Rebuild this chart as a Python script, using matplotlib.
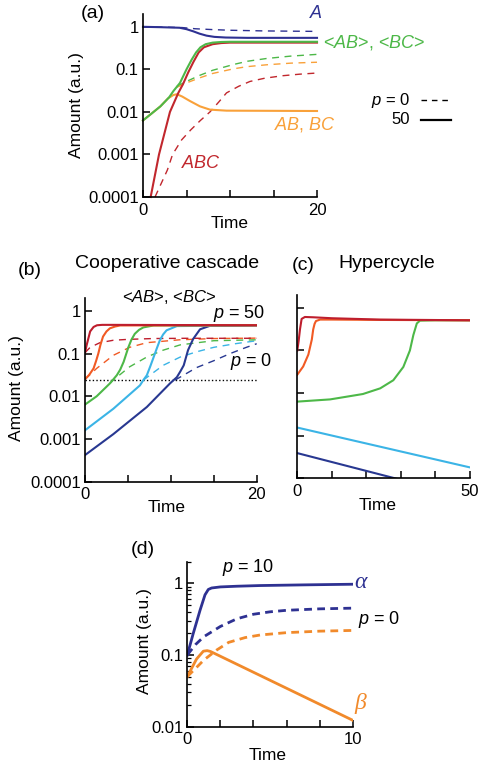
import matplotlib
matplotlib.use("Agg")
import matplotlib.pyplot as plt
from matplotlib.lines import Line2D
from matplotlib.ticker import FixedLocator, NullLocator, LogLocator, NullFormatter

plt.rcParams['font.family'] = ['Liberation Sans', 'DejaVu Sans']
plt.rcParams['mathtext.fontset'] = 'custom'
plt.rcParams['mathtext.rm'] = 'Liberation Sans'
plt.rcParams['mathtext.it'] = 'Liberation Sans:italic'

# ---------------- data: panel (a) ----------------
a_A_t = [0, 2, 4.2, 5, 5.8, 6.5, 7.3, 8.2, 9.5, 12, 20]
a_A_p50 = [1.0, 0.98, 0.95, 0.88, 0.78, 0.69, 0.62, 0.58, 0.56, 0.55, 0.55]
a_Ad_t = [0, 4.5, 6, 8, 10, 14, 20]
a_A_p0 = [1.0, 0.96, 0.9, 0.86, 0.83, 0.8, 0.78]

a_AB2_t = [0, 1, 2, 3, 3.5, 4.25, 5, 5.6, 6.1, 6.6, 7.2, 8, 9, 10, 20]
a_AB2_p50 = [0.0063, 0.0092, 0.0135, 0.022, 0.031, 0.048, 0.1, 0.17, 0.25, 0.33, 0.39, 0.425, 0.44, 0.445, 0.445]
a_ABC_t = [0.88, 1.84, 3.1, 4.06, 4.6, 5.2, 5.8, 6.4, 7, 8, 9, 10, 20]
a_ABC_p50 = [1e-4, 1e-3, 0.01, 0.028, 0.045, 0.085, 0.15, 0.25, 0.33, 0.39, 0.415, 0.425, 0.425]
a_AB_t = [0, 1, 2, 2.9, 3.5, 3.9, 4.5, 5.4, 6.55, 7.7, 9.6, 20]
a_AB_p50 = [0.0063, 0.0092, 0.0135, 0.021, 0.025, 0.026, 0.023, 0.018, 0.0135, 0.0113, 0.0107, 0.0105]

a_ABCd_t = [1.38, 2.8, 3.4, 4.44, 5.5, 6.6, 7.7, 8.7, 9.6, 11, 12.3, 14, 16.1, 18, 20]
a_ABC_p0 = [1e-4, 4.3e-4, 1e-3, 2.2e-3, 3.8e-3, 6.3e-3, 0.01, 0.017, 0.028, 0.04, 0.052, 0.062, 0.071, 0.077, 0.082]
a_d_t = [3.9, 5, 6.5, 8, 10.4, 12, 14.2, 17, 20]
a_AB2_p0 = [0.04, 0.052, 0.072, 0.095, 0.13, 0.155, 0.18, 0.205, 0.225]
a_AB_p0 = [0.038, 0.048, 0.063, 0.08, 0.103, 0.116, 0.128, 0.14, 0.147]

# ---------------- data: panel (b) ----------------
b_red_t = [0, 0.2, 0.6, 1.0, 1.4, 2, 3, 20]
b_red_p50 = [0.105, 0.16, 0.33, 0.42, 0.46, 0.47, 0.47, 0.46]
b_redd_t = [0, 0.6, 1.75, 3.3, 5, 8, 12, 20]
b_red_p0 = [0.105, 0.14, 0.18, 0.205, 0.215, 0.225, 0.228, 0.228]

b_org_t = [0, 0.5, 1.0, 1.3, 1.55, 1.8, 2.1, 2.5, 2.9, 3.5, 4.1, 20]
b_org_p50 = [0.025, 0.032, 0.045, 0.068, 0.1, 0.16, 0.25, 0.33, 0.39, 0.43, 0.455, 0.46]
b_orgd_t = [0, 1.36, 3.3, 5.2, 7.2, 11, 15, 20]
b_org_p0 = [0.025, 0.045, 0.091, 0.14, 0.18, 0.21, 0.225, 0.23]

b_grn_t = [0, 1.36, 2.9, 3.7, 4.1, 4.5, 5.05, 5.4, 5.8, 6.3, 6.8, 8, 20]
b_grn_p50 = [0.0064, 0.01, 0.02, 0.031, 0.042, 0.064, 0.14, 0.21, 0.29, 0.36, 0.41, 0.455, 0.46]
b_grnd_t = [2.9, 3.3, 5.2, 7.2, 9.1, 11.1, 15, 20]
b_grn_p0 = [0.02, 0.024, 0.049, 0.083, 0.12, 0.16, 0.2, 0.21]

b_lbl_t = [0, 3.3, 6.4, 6.8, 7.2, 7.6, 8.0, 8.35, 8.7, 9.1, 9.5, 10.7, 20]
b_lbl_p50 = [0.0016, 0.0051, 0.018, 0.024, 0.031, 0.05, 0.083, 0.13, 0.2, 0.28, 0.35, 0.44, 0.46]
b_lbld_t = [6.8, 9.1, 11.1, 13, 15, 17.5, 20]
b_lbl_p0 = [0.024, 0.053, 0.083, 0.11, 0.14, 0.17, 0.2]

b_nvy_t = [0, 3.3, 7.2, 9.9, 10.7, 11.1, 11.5, 12.0, 12.6, 13.4, 14.6, 20]
b_nvy_p50 = [0.00042, 0.0013, 0.0056, 0.02, 0.028, 0.038, 0.053, 0.12, 0.22, 0.37, 0.45, 0.46]
b_nvyd_t = [10.5, 13, 15, 16.9, 18.8, 20]
b_nvy_p0 = [0.024, 0.047, 0.068, 0.1, 0.14, 0.17]

b_threshold = 0.0237

# ---------------- data: panel (c) ----------------
c_red_t = [0, 0.4, 0.77, 1.25, 2.2, 4.6, 10, 24, 50]
c_red = [0.1, 0.17, 0.31, 0.55, 0.61, 0.6, 0.57, 0.53, 0.51]
c_org_t = [0, 1.7, 3.2, 4.2, 4.6, 5.0, 5.4, 6.6, 10, 24, 50]
c_org = [0.027, 0.042, 0.08, 0.18, 0.31, 0.42, 0.49, 0.53, 0.53, 0.52, 0.51]
c_grn_t = [0, 9.5, 19, 24, 27.8, 30.7, 32.6, 33.6, 34.6, 35.5, 40, 50]
c_grn = [0.0063, 0.0071, 0.0095, 0.0129, 0.02, 0.041, 0.1, 0.23, 0.43, 0.5, 0.51, 0.51]
c_lbl_t = [0, 50]
c_lbl = [0.00155, 0.00018]
c_nvy_t = [0, 30]
c_nvy = [0.00039, 0.000092]

# ---------------- data: panel (d) ----------------
d_alpha_t = [0, 0.36, 0.77, 1.07, 1.27, 1.47, 2, 3, 4.4, 7, 10]
d_alpha_p10 = [0.1, 0.2, 0.42, 0.69, 0.82, 0.86, 0.89, 0.91, 0.93, 0.95, 0.97]
d_alphad_t = [0, 0.5, 1, 2, 3, 4, 5, 6, 8, 10]
d_alpha_p0 = [0.1, 0.14, 0.18, 0.25, 0.32, 0.37, 0.4, 0.42, 0.44, 0.45]
d_beta_t = [0, 0.56, 0.97, 1.2, 1.4, 10]
d_beta_p10 = [0.05, 0.088, 0.113, 0.115, 0.112, 0.0123]
d_betad_t = [0, 0.5, 1, 1.77, 2.5, 3.5, 4.4, 6, 8, 10]
d_beta_p0 = [0.05, 0.065, 0.085, 0.117, 0.15, 0.175, 0.19, 0.205, 0.215, 0.22]

# ---------------- tick labels ----------------
y_ticks_5 = [1, 0.1, 0.01, 0.001, 0.0001]
y_labels_5 = ['1', '0.1', '0.01', '0.001', '0.0001']
d_y_ticks = [1, 0.1, 0.01]
d_y_labels = ['1', '0.1', '0.01']

# colours
NAVY = '#2E3192'
GREEN = '#4DB848'
ORANGE_A = '#F9A13A'
RED = '#C1272D'
B_RED = '#BE1E2D'
B_ORANGE = '#F15A24'
B_LBLUE = '#3BB4E6'
B_NAVY = '#283891'
D_ORANGE = '#F18A2B'

W, H = 480, 766
fig = plt.figure(figsize=(W / 100, H / 100), dpi=100)


def px_axes(l, r, t, b):
    return fig.add_axes([l / W, 1 - b / H, (r - l) / W, (b - t) / H])


def ftext(x, y, s, **kw):
    kw.setdefault('ha', 'center')
    kw.setdefault('va', 'center')
    fig.text(x / W, 1 - y / H, s, **kw)


def style(ax, xmax, xticks, xlabels, yticks, ylabels, ybot):
    ax.set_yscale('log')
    ax.set_xlim(0, xmax)
    ax.set_ylim(ybot, 2.0)
    for s in ['top', 'right']:
        ax.spines[s].set_visible(False)
    for s in ['left', 'bottom']:
        ax.spines[s].set_linewidth(1.2)
    ax.xaxis.set_major_locator(FixedLocator(xticks))
    ax.set_xticklabels(xlabels)
    ax.yaxis.set_major_locator(FixedLocator(yticks))
    ax.yaxis.set_minor_locator(NullLocator())
    ax.yaxis.set_minor_formatter(NullFormatter())
    ax.set_yticklabels(ylabels)
    ax.tick_params(direction='in', length=5, width=1.1, labelsize=12, pad=3)
    ax.tick_params(axis='x', pad=4)
    ax.patch.set_alpha(0)


DASH = (0, (5, 4))
LW = 1.5
LWD = 1.0

# ---------------- panel (a) ----------------
axa = px_axes(143, 317, 14, 197)
style(axa, 20, [0, 5, 10, 15, 20], ['0', '', '', '', '20'], y_ticks_5, y_labels_5, 1e-4)
axa.plot(a_Ad_t, a_A_p0, color=NAVY, lw=LWD, ls=DASH)
axa.plot(a_d_t, a_AB2_p0, color=GREEN, lw=LWD, ls=DASH)
axa.plot(a_d_t, a_AB_p0, color=ORANGE_A, lw=LWD, ls=DASH)
axa.plot(a_ABCd_t, a_ABC_p0, color=RED, lw=LWD, ls=DASH)
axa.plot(a_A_t, a_A_p50, color=NAVY, lw=LW)
axa.plot(a_AB_t, a_AB_p50, color=ORANGE_A, lw=LW)
axa.plot(a_ABC_t, a_ABC_p50, color=RED, lw=LW)
axa.plot(a_AB2_t, a_AB2_p50, color=GREEN, lw=LW)
for ln in axa.lines:
    ln.set_clip_on(False)

ftext(93, 14, '(a)', fontsize=14)
ftext(76, 105.5, 'Amount (a.u.)', fontsize=12.5, rotation=90)
ftext(230, 223, 'Time', fontsize=12.5)
ftext(316, 14, '$A$', fontsize=13, color=NAVY)
ftext(323, 43, '<$AB$>, <$BC$>', fontsize=13, color=GREEN, ha='left')
ftext(305, 125, '$AB$, $BC$', fontsize=13, color=ORANGE_A)
ftext(201, 163, '$ABC$', fontsize=13, color=RED)
ftext(410, 100, '$p$ = 0', fontsize=12, ha='right')
ftext(410, 120, '50', fontsize=12, ha='right')
fig.add_artist(Line2D([420.7 / W, 450 / W], [1 - 100 / H, 1 - 100 / H], color='black', lw=1.0, ls=(0, (4, 3.5))))
fig.add_artist(Line2D([420.7 / W, 451 / W], [1 - 119.5 / H, 1 - 119.5 / H], color='black', lw=1.6))

# ---------------- panel (b) ----------------
axb = px_axes(85, 256.7, 298, 481.7)
style(axb, 20, [0, 5, 10, 15, 20], ['0', '', '', '', '20'], y_ticks_5, y_labels_5, 1e-4)
axb.axhline(b_threshold, color='black', lw=1.0, ls=(0, (1, 1.6)))
axb.plot(b_nvyd_t, b_nvy_p0, color=B_NAVY, lw=LWD, ls=DASH)
axb.plot(b_lbld_t, b_lbl_p0, color=B_LBLUE, lw=LWD, ls=DASH)
axb.plot(b_grnd_t, b_grn_p0, color=GREEN, lw=LWD, ls=DASH)
axb.plot(b_orgd_t, b_org_p0, color=B_ORANGE, lw=LWD, ls=DASH)
axb.plot(b_redd_t, b_red_p0, color=B_RED, lw=LWD, ls=DASH)
axb.plot(b_nvy_t, b_nvy_p50, color=B_NAVY, lw=LW)
axb.plot(b_lbl_t, b_lbl_p50, color=B_LBLUE, lw=LW)
axb.plot(b_grn_t, b_grn_p50, color=GREEN, lw=LW)
axb.plot(b_org_t, b_org_p50, color=B_ORANGE, lw=LW)
axb.plot(b_red_t, b_red_p50, color=B_RED, lw=LW)

ftext(30, 271, '(b)', fontsize=14)
ftext(167, 263, 'Cooperative cascade', fontsize=14)
ftext(17, 388, 'Amount (a.u.)', fontsize=12.5, rotation=90)
ftext(167, 507, 'Time', fontsize=12.5)
ftext(169, 297, '<$AB$>, <$BC$>', fontsize=12)
ftext(265, 313, '$p$ = 50', fontsize=13, ha='right')
ftext(272, 362, '$p$ = 0', fontsize=13, ha='right')

# ---------------- panel (c) ----------------
axc = px_axes(297.3, 470, 295, 478.3)
style(axc, 50, [0, 10, 20, 30, 40, 50], ['0', '', '', '', '', '50'], y_ticks_5, ['', '', '', '', ''], 1e-4)
axc.plot(c_nvy_t, c_nvy, color=B_NAVY, lw=LW)
axc.plot(c_lbl_t, c_lbl, color=B_LBLUE, lw=LW)
axc.plot(c_grn_t, c_grn, color=GREEN, lw=LW)
axc.plot(c_org_t, c_org, color=B_ORANGE, lw=LW)
axc.plot(c_red_t, c_red, color=B_RED, lw=LW)

ftext(303, 265, '(c)', fontsize=14)
ftext(387, 263, 'Hypercycle', fontsize=14)
ftext(378, 506, 'Time', fontsize=12.5)

# ---------------- panel (d) ----------------
axd = px_axes(187.3, 352.7, 561.7, 726.7)
style(axd, 10, [0, 2, 4, 6, 8, 10], ['0', '', '', '', '', '10'], d_y_ticks, d_y_labels, 0.01)
axd.yaxis.set_minor_locator(LogLocator(base=10, subs=[2, 3, 4, 5, 6, 7, 8, 9]))
axd.tick_params(which='minor', direction='in', length=3, width=0.9)
DDASH = (0, (2.8, 1.9))
axd.plot(d_alphad_t, d_alpha_p0, color=NAVY, lw=2.0, ls=DDASH)
axd.plot(d_betad_t, d_beta_p0, color=D_ORANGE, lw=2.0, ls=DDASH)
axd.plot(d_alpha_t, d_alpha_p10, color=NAVY, lw=2.0)
axd.plot(d_beta_t, d_beta_p10, color=D_ORANGE, lw=2.0)

ftext(143, 550, '(d)', fontsize=14)
ftext(145, 641, 'Amount (a.u.)', fontsize=12.5, rotation=90)
ftext(268, 755, 'Time', fontsize=12.5)
ftext(248, 568, '$p$ = 10', fontsize=13)
ftext(360, 582, 'α', fontsize=17, color=NAVY, family='Liberation Serif', style='italic')
ftext(358, 620, '$p$ = 0', fontsize=13, ha='left')
ftext(360, 703, 'β', fontsize=17, color=D_ORANGE, family='Liberation Serif', style='italic')

fig.savefig('out.png', dpi=100)
